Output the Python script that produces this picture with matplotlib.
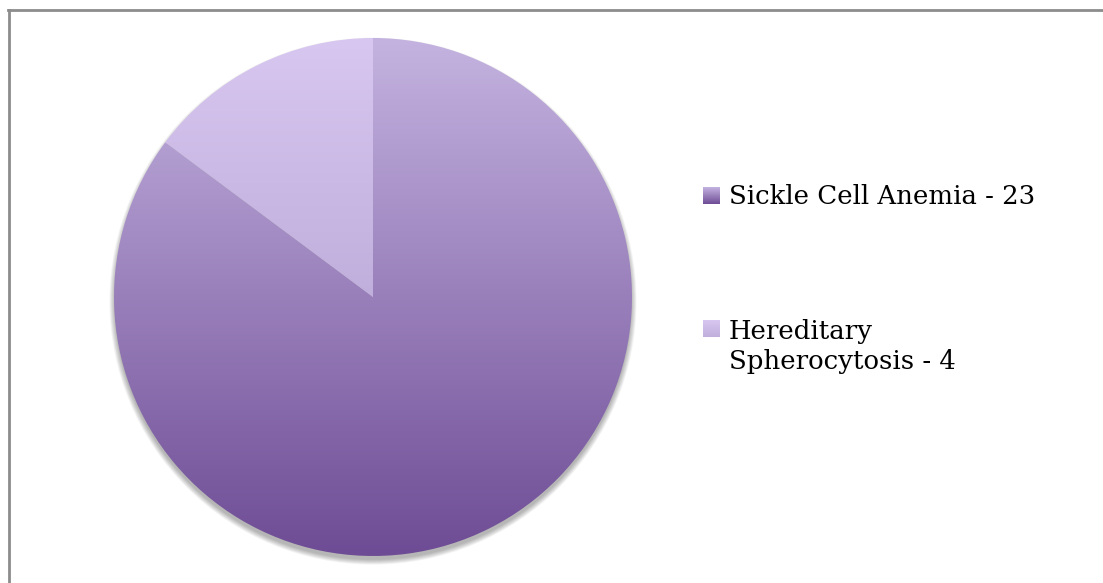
import numpy as np
import matplotlib
matplotlib.use("Agg")
import matplotlib.pyplot as plt
from matplotlib.patches import Circle
from matplotlib.colors import LinearSegmentedColormap

labels = ["Sickle Cell Anemia - 23", "Hereditary\nSpherocytosis - 4"]
values = [23, 4]
grad_top = ["#c4b3e0", "#d8c7f0"]
grad_bot = ["#6e4c95", "#c0aedc"]

W, H = 1103, 583
fig = plt.figure(figsize=(W / 100, H / 100), dpi=100)
fig.patch.set_facecolor("white")

# frame (top and left visible)
fig.add_artist(plt.Line2D([8 / W, 1], [1 - 9.5 / H, 1 - 9.5 / H], color="#8c8c8c", lw=2.0))
fig.add_artist(plt.Line2D([8.5 / W, 8.5 / W], [0, 1 - 9.5 / H], color="#8c8c8c", lw=2.0))

# pie axes
cx, cy, r = 373, 297, 259
m = 1.1
ax = fig.add_axes([(cx - r * m) / W, (H - cy - r * m) / H, 2 * r * m / W, 2 * r * m / H])
ax.set_xlim(-m, m)
ax.set_ylim(-m, m)
ax.axis("off")

# soft shadow, cast downward
for i in range(10):
    ax.add_patch(Circle((0, -0.016), 0.998 + 0.0022 * i, color="black", alpha=0.03, lw=0, zorder=0))

wedges, _ = ax.pie(values, startangle=90, counterclock=False, radius=1.0,
                   wedgeprops=dict(linewidth=0))
ax.set_xlim(-m, m)
ax.set_ylim(-m, m)

grad = np.linspace(0, 1, 256).reshape(-1, 1)
for k, w in enumerate(wedges):
    w.set_facecolor("none")
    cmap = LinearSegmentedColormap.from_list("g%d" % k, [grad_top[k], grad_bot[k]])
    bb = w.get_path().get_extents(w.get_patch_transform())
    y0, y1 = bb.y0, bb.y1
    im = ax.imshow(grad, cmap=cmap, extent=(-1, 1, y0, y1), origin="upper",
                   aspect="auto", zorder=2, interpolation="bicubic")
    im.set_clip_path(w)
ax.set_xlim(-m, m)
ax.set_ylim(-m, m)

# legend
sq = 17
items = [(703, 187, 729, 184), (703, 320, 729, 319)]
for k, (sx, sy, tx, ty) in enumerate(items):
    lax = fig.add_axes([sx / W, (H - sy - sq) / H, sq / W, sq / H])
    cmap = LinearSegmentedColormap.from_list("l%d" % k, [grad_top[k], grad_bot[k]])
    lax.imshow(grad, cmap=cmap, aspect="auto", origin="upper")
    lax.axis("off")
    fig.text(tx / W, 1 - ty / H, labels[k], fontsize=18.7, family="DejaVu Serif",
             va="top", ha="left", color="black", linespacing=1.25)

fig.savefig("out.png", dpi=100, facecolor="white")
